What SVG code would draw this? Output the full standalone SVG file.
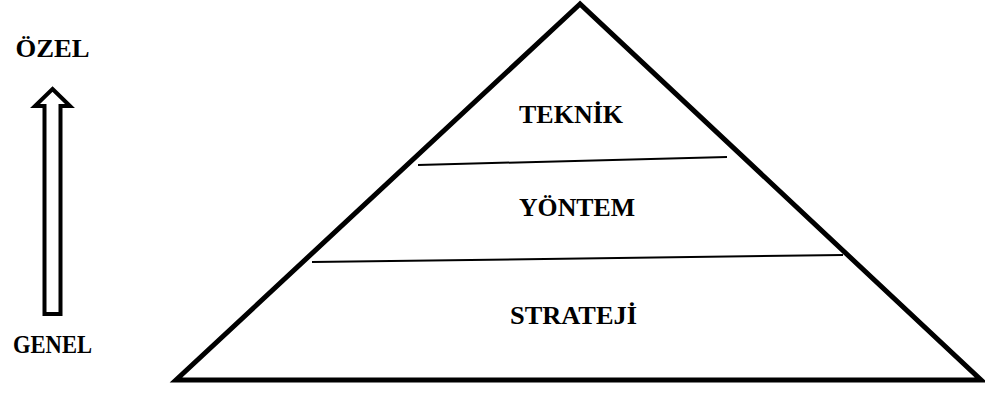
<svg xmlns="http://www.w3.org/2000/svg" width="985" height="394" viewBox="0 0 985 394">
<style>
.lbl{font-family:"Liberation Serif","Times New Roman",serif;font-weight:bold;font-size:25px;fill:#000;text-anchor:middle}
.thick{fill:none;stroke:#000;stroke-width:5;stroke-linejoin:miter}
.thin{fill:none;stroke:#000;stroke-width:2}
</style>
<rect width="985" height="394" fill="#fff"/>
<g id="pyramid">
<polygon class="thick" points="580,4 176,380 981,380"/>
</g>
<g id="connectors">
<line class="thin" x1="418" y1="165" x2="727" y2="157"/>
<line class="thin" x1="312" y1="262" x2="843" y2="255"/>
</g>
<g id="arrow">
<polygon fill="#fff" stroke="#000" stroke-width="4" points="52.5,89 70,106 60.5,106 60.5,314 44.5,314 44.5,106 35,106"/>
</g>
<g id="teknik"><text class="lbl" x="571" y="123" textLength="104" lengthAdjust="spacingAndGlyphs">TEKNİK</text></g>
<g id="yontem"><text class="lbl" x="577" y="216" textLength="116" lengthAdjust="spacingAndGlyphs">YÖNTEM</text></g>
<g id="strateji"><text class="lbl" x="573.5" y="324" textLength="127" lengthAdjust="spacingAndGlyphs">STRATEJİ</text></g>
<g id="ozel"><text class="lbl" x="52.5" y="57" textLength="74" lengthAdjust="spacingAndGlyphs">ÖZEL</text></g>
<g id="genel"><text class="lbl" x="52.5" y="353" textLength="79" lengthAdjust="spacingAndGlyphs">GENEL</text></g>
</svg>
